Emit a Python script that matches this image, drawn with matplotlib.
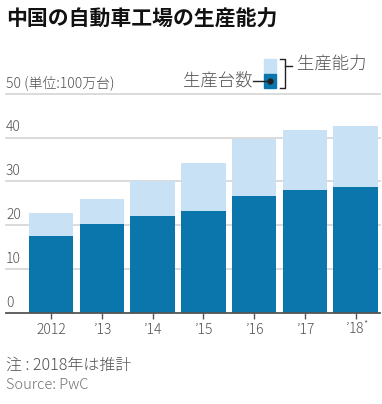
import matplotlib
matplotlib.use("Agg")
import matplotlib.pyplot as plt
from matplotlib.patches import Rectangle
from matplotlib.lines import Line2D
from matplotlib.transforms import ScaledTranslation
import numpy as np

# --- data (100万台) ---
years = ["2012", "’13", "’14", "’15", "’16", "’17", "’18$^{*}$"]
capacity = [22.7, 25.9, 30.0, 34.1, 39.6, 41.7, 42.7]    # 生産能力
production = [17.5, 20.3, 22.1, 23.3, 26.6, 28.0, 28.7]  # 生産台数
yticks = [0, 10, 20, 30, 40, 50]

plt.rcParams['font.family'] = ['Noto Sans CJK JP', 'DejaVu Sans']
plt.rcParams['mathtext.fontset'] = 'custom'
plt.rcParams['mathtext.rm'] = 'Noto Sans CJK JP:light'
plt.rcParams['mathtext.default'] = 'rm'

DARK = "#0a76ab"
LIGHT = "#c9e1f4"
TEXT = "#505050"
W, H = 382, 404

fig = plt.figure(figsize=(W / 100, H / 100), dpi=100)
ax = fig.add_axes([6 / W, 1 - 313 / H, 374 / W, (313 - 93.7) / H])

x = np.arange(len(years))
ax.bar(x, capacity, width=0.88, color=LIGHT, zorder=2)
ax.bar(x, production, width=0.88, color=DARK, zorder=3)
ax.set_xlim(-0.89, 6.48)
ax.set_ylim(0, 50)

# gridlines + labels sitting on them
for v in yticks:
    if v == 0:
        ax.axhline(v, color="#555555", lw=1.3, zorder=4, clip_on=False)
    else:
        ax.axhline(v, color="#d8d8d8", lw=1.3, zorder=1, clip_on=False)
    lab = "50 (単位:100万台)" if v == 50 else str(v)
    ax.annotate(lab, xy=(0, v), xycoords=ax.get_yaxis_transform(),
                xytext=(0, 2.5), textcoords="offset points",
                ha="left", va="bottom", fontsize=10, color=TEXT, weight="light")

ax.set_yticks([])
ax.set_xticks(x, years)
ax.tick_params(axis="x", length=4, width=1, color="#555555", pad=3,
               labelsize=10, labelcolor=TEXT)
for lbl in ax.get_xticklabels():
    lbl.set_fontweight("light")
last = ax.get_xticklabels()[-1]
last.set_transform(last.get_transform() +
                   ScaledTranslation(1 / 100, 3 / 100, fig.dpi_scale_trans))
for s in ax.spines.values():
    s.set_visible(False)

# --- title ---
fig.text(6 / W, 1 - 19 / H, "中国の自動車工場の生産能力", fontsize=15,
         weight="bold", color="#111111", ha="left", va="center")

# --- legend key ---
def fy(py):
    return 1 - py / H

fig.patches.append(Rectangle((264 / W, fy(73)), 12 / W, 14 / H, color=LIGHT,
                             transform=fig.transFigure))
fig.patches.append(Rectangle((264 / W, fy(88)), 12 / W, 14 / H, color=DARK,
                             transform=fig.transFigure))
fig.lines.append(Line2D([253 / W, 270 / W], [fy(81), fy(81)], color="#222222",
                        lw=1, transform=fig.transFigure))
fig.lines.append(Line2D([270 / W], [fy(81)], marker="o", ms=3.5, color="#222222",
                        transform=fig.transFigure))
fig.lines.append(Line2D([280 / W, 285 / W, 285 / W, 280 / W],
                        [fy(59), fy(59), fy(88), fy(88)], color="#222222",
                        lw=1, transform=fig.transFigure))
fig.lines.append(Line2D([285 / W, 292 / W], [fy(66), fy(66)], color="#222222",
                        lw=1, transform=fig.transFigure))
fig.text(297 / W, fy(65), "生産能力", fontsize=12.5, color=TEXT, ha="left",
         va="center", weight="light")
fig.text(252 / W, fy(82), "生産台数", fontsize=12.5, color=TEXT, ha="right",
         va="center", weight="light")

# --- notes ---
fig.text(6 / W, fy(365), "注 : 2018年は推計", fontsize=11.5, color=TEXT,
         ha="left", va="center", weight="light")
fig.text(6 / W, fy(385), "Source: PwC", fontsize=10.5, color="#707070",
         ha="left", va="center", weight="light")

fig.savefig("out.png", dpi=100)
